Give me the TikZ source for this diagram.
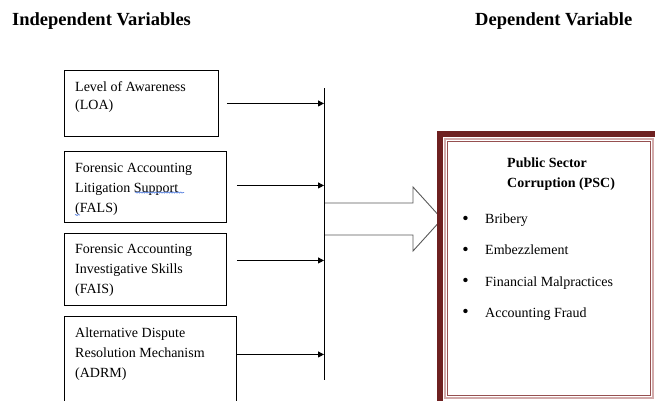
\documentclass[tikz,border=0pt]{standalone}
\usepackage{fontspec}
\setmainfont{Liberation Serif}
\usetikzlibrary{arrows.meta,positioning,decorations.pathmorphing}
\definecolor{pscframe}{RGB}{110,32,32}
\definecolor{pscpink}{RGB}{210,170,170}
\definecolor{pscline}{RGB}{150,80,80}
\definecolor{spellblue}{RGB}{95,135,225}
\tikzset{
  >={Triangle[length=6pt,width=6pt]},
  hdr/.style   ={font=\fontsize{18.5}{22}\selectfont\bfseries, inner sep=0pt, anchor=base west},
  ivbox/.style ={draw, line width=0.9pt, anchor=north west, inner sep=0pt},
  ivtxt/.style ={align=left, inner sep=0pt, font=\fontsize{14}{20}\selectfont},
  link/.style  ={->, line width=0.9pt},
  bus/.style   ={line width=1pt},
  bigarrow/.style={draw=black!65, line width=0.9pt, fill=white},
  dvtxt/.style ={align=left, inner sep=0pt, font=\fontsize{14}{20}\selectfont},
  spell/.style ={draw=spellblue, line width=0.6pt, decorate,
                 decoration={snake, amplitude=0.6pt, segment length=2.5pt}}
}

\begin{document}
\begin{tikzpicture}[x=1pt, y=-1pt]
\useasboundingbox (0,0) rectangle (655,400);
\clip (0,0) rectangle (655,400);

% headings
\node[hdr] (ivhead) at (12,25) {Independent Variables};
\node[hdr] (dvhead) at (475,25) {Dependent Variable};

% independent variable boxes
\node[ivbox, minimum width=154pt, minimum height=66pt] (loa)  at (64,70)  {};
\node[ivbox, minimum width=162pt, minimum height=71pt] (fals) at (64,151) {};
\node[ivbox, minimum width=162pt, minimum height=72pt] (fais) at (64,233) {};
\node[ivbox, minimum width=172pt, minimum height=100pt] (adrm) at (64,316) {};

\node[ivtxt, font=\fontsize{14}{18}\selectfont, below right=11.5pt and 11pt of loa.north west] (loatxt)
  {Level of Awareness\\(LOA)};
\node[ivtxt, below right=12pt and 11pt of fals.north west] (falstxt)
  {Forensic Accounting\\Litigation Support\\(FALS)};
\node[ivtxt, below right=11.5pt and 11pt of fais.north west] (faistxt)
  {Forensic Accounting\\Investigative Skills\\(FAIS)};
\node[ivtxt, below right=12pt and 11pt of adrm.north west] (adrmtxt)
  {Alternative Dispute\\Resolution Mechanism\\(ADRM)};

% spell-check marks
\draw[spell] (135,192.5) -- (184,192.5);
\draw[spell] (75,215) -- (80,215);

% block arrow
\draw[bigarrow] (324,203) -- (413,203) -- (413,187) -- (442,219)
  -- (413,251) -- (413,235) -- (324,235);

% collecting line
\coordinate (bustop) at (324,88);
\coordinate (busbot) at (324,380);
\draw[bus] (bustop) -- (busbot);

\draw[link] ([xshift=8pt]loa.east) -- (loa.east -| bustop);
\draw[link] ([shift={(10pt,1.5pt)}]fals.east) -- ([yshift=1.5pt]fals.east -| bustop);
\draw[link] ([shift={(10pt,9pt)}]fais.east) -- ([yshift=9pt]fais.east -| bustop);
\draw[link] ([yshift=12pt]adrm.east) -- ([yshift=12pt]adrm.east -| bustop);

% dependent variable frame
\draw[pscframe, line width=6pt] (440,134) rectangle (660,404);
\draw[pscpink, line width=2pt] (444.5,138.5) rectangle (653,397.5);
\draw[pscline, line width=1pt] (447,141) rectangle (650.5,395.5);

\node[dvtxt, font=\fontsize{14}{20}\selectfont\bfseries, anchor=north west] (psc) at (507,157.5)
  {Public Sector\\Corruption (PSC)};

\foreach \dv [count=\i] in {Bribery, Embezzlement, Financial Malpractices, Accounting Fraud}
  \node[dvtxt, anchor=base west] (dv\i) at (485,223.5+31.3*\i-31.3)
    {\llap{\raisebox{-0.5pt}{\scalebox{1.3}{\textbullet}}\hspace{16.5pt}}\dv};
\end{tikzpicture}
\end{document}
